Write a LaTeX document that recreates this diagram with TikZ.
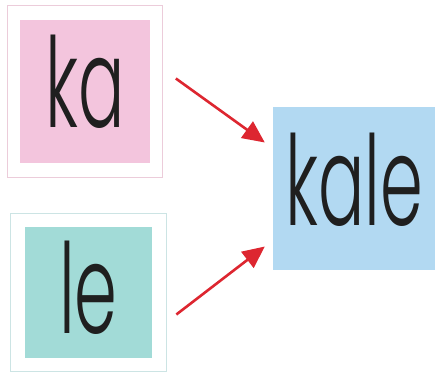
\documentclass[tikz,border=0pt]{standalone}
\usepackage{fontspec}
\setsansfont{Poppins}[UprightFont={* Light}]
\usetikzlibrary{positioning,fit,arrows.meta}
\definecolor{cardpink}{RGB}{243,197,221}
\definecolor{cardteal}{RGB}{162,219,215}
\definecolor{cardblue}{RGB}{178,217,242}
\definecolor{framepink}{RGB}{236,204,218}
\definecolor{frameteal}{RGB}{204,228,228}
\definecolor{arrowred}{RGB}{221,38,48}
\newcommand{\narrow}[1]{\scalebox{0.55}[1]{#1}}
\tikzset{
  card/.style={inner sep=0pt, text=black!88,
    font=\sffamily\fontsize{125}{125}\selectfont, text height=93pt},
  frame/.style={draw=#1, line width=1.3pt, inner sep=0pt},
  linkarrow/.style={draw=arrowred, line width=2.6pt,
    -{Triangle[length=22pt,width=20pt]}}
}
\begin{document}
\begin{tikzpicture}[x=1pt,y=-1pt]
  \useasboundingbox (0,0) rectangle (441,372);

  % Syllable cards
  \node[card, fill=cardpink, minimum width=130pt, minimum height=143pt,
        text depth=22pt] (ka) at (85,91.5) {\narrow{ka}};
  \node[card, fill=cardteal, minimum width=127pt, minimum height=131pt,
        text depth=11pt] (le) at (88.5,292.5) {\narrow{le}};

  % Outlines round the syllables
  \node[frame=framepink, fit=(ka), inner xsep=12pt, inner ysep=14.5pt] (ka_frame) {};
  \node[frame=frameteal, fit=(le), inner xsep=14.5pt, inner ysep=13.5pt] (le_frame) {};

  % The word
  \node[card, fill=cardblue, minimum width=162pt, minimum height=163pt,
        text depth=20pt] (kale) at (354,188.5) {\narrow{kale}};

  \draw[linkarrow] ([xshift=13pt,yshift=13pt]ka_frame.east) -- ([xshift=-8pt,yshift=46pt]kale.west);
  \draw[linkarrow] ([xshift=9pt,yshift=-22pt]le_frame.east) -- ([xshift=-8pt,yshift=-58pt]kale.west);
\end{tikzpicture}
\end{document}
